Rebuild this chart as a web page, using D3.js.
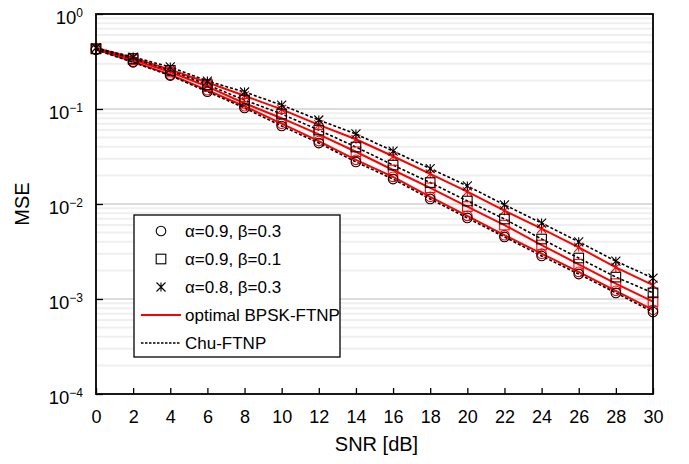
<!DOCTYPE html>
<html>
<head>
<meta charset="utf-8">
<script src="https://cdn.jsdelivr.net/npm/d3@7"></script>
<style>
  body { margin: 0; background: #fff; }
  text { font-family: "Liberation Sans", Arial, sans-serif; }
</style>
</head>
<body>
<div id="chart"></div>
<script>
// SNR points (dB)
const snr = [0, 2, 4, 6, 8, 10, 12, 14, 16, 18, 20, 22, 24, 26, 28, 30]

// Chu-FTNP (black dashed)
const chuA9B3 = [0.42, 0.31, 0.225, 0.152, 0.1025, 0.0662, 0.0438, 0.0277, 0.0183, 0.0113, 0.00713, 0.0045, 0.00284, 0.00183, 0.00116, 0.00073]
const chuA9B1 = [0.43, 0.34, 0.255, 0.18, 0.124, 0.0886, 0.06, 0.0398, 0.0257, 0.0168, 0.01075, 0.00695, 0.00428, 0.0027, 0.0017, 0.00116]
const chuA8B3 = [0.44, 0.352, 0.277, 0.197, 0.151, 0.11, 0.0766, 0.0546, 0.0361, 0.0236, 0.0155, 0.0098, 0.0063, 0.004, 0.0025, 0.00166]

// optimal BPSK-FTNP (red solid)
const optA9B3 = [0.425, 0.315, 0.23, 0.158, 0.107, 0.07, 0.046, 0.0292, 0.0193, 0.0119, 0.0075, 0.0047, 0.003, 0.00193, 0.00122, 0.00077]
const optA9B1 = [0.43, 0.33, 0.245, 0.172, 0.115, 0.08, 0.054, 0.0355, 0.0228, 0.0148, 0.0094, 0.006, 0.0037, 0.00232, 0.00145, 0.00094]
const optA8B3 = [0.44, 0.345, 0.26, 0.19, 0.138, 0.099, 0.068, 0.048, 0.0318, 0.0208, 0.0135, 0.0085, 0.0055, 0.0035, 0.00215, 0.0014]

const xTicks = [0, 2, 4, 6, 8, 10, 12, 14, 16, 18, 20, 22, 24, 26, 28, 30]
const yDecades = [0, -1, -2, -3, -4]

const legendLabels = ['α=0.9, β=0.3', 'α=0.9, β=0.1', 'α=0.8, β=0.3', 'optimal BPSK-FTNP', 'Chu-FTNP']

const W = 689, H = 464
const pLeft = 96, pRight = 653, pTop = 14, pBottom = 394

const svg = d3.select('#chart').append('svg')
  .attr('width', W).attr('height', H)

const x = d3.scaleLinear().domain([0, 30]).range([pLeft, pRight])
const y = d3.scaleLog().domain([1e-4, 1]).range([pBottom, pTop])

// horizontal grid: minor then decade lines
const minors = []
for (let e = -4; e < 0; e++) {
  for (let m = 2; m <= 9; m++) minors.push(m * Math.pow(10, e))
}
svg.append('g').selectAll('line').data(minors).enter().append('line')
  .attr('x1', pLeft).attr('x2', pRight)
  .attr('y1', d => y(d)).attr('y2', d => y(d))
  .attr('stroke', '#efefef').attr('stroke-width', 2)
svg.append('g').selectAll('line').data(yDecades.slice(1, -1)).enter().append('line')
  .attr('x1', pLeft).attr('x2', pRight)
  .attr('y1', d => y(Math.pow(10, d))).attr('y2', d => y(Math.pow(10, d)))
  .attr('stroke', '#dcdcdc').attr('stroke-width', 2)

// series
const series = [
  { vals: chuA9B3, marker: 'circle', color: '#000', dash: true },
  { vals: chuA9B1, marker: 'square', color: '#000', dash: true },
  { vals: chuA8B3, marker: 'star', color: '#000', dash: true },
  { vals: optA9B3, marker: 'circle', color: '#ff0000', dash: false },
  { vals: optA9B1, marker: 'square', color: '#ff0000', dash: false },
  { vals: optA8B3, marker: 'star', color: '#ff0000', dash: false }
]

const line = d3.line().x((d, i) => x(snr[i])).y(d => y(d))

function drawMarker(g, type, cx, cy, color) {
  if (type === 'circle') {
    g.append('circle').attr('cx', cx).attr('cy', cy).attr('r', 4.8)
      .attr('fill', 'none').attr('stroke', color).attr('stroke-width', 1.1)
  } else if (type === 'square') {
    g.append('rect').attr('x', cx - 4.8).attr('y', cy - 4.8).attr('width', 9.6).attr('height', 9.6)
      .attr('fill', 'none').attr('stroke', color).attr('stroke-width', 1.1)
  } else {
    const s = 4.5
    g.append('path')
      .attr('d', `M${cx - s},${cy - s}L${cx + s},${cy + s}M${cx - s},${cy + s}L${cx + s},${cy - s}M${cx},${cy - s}L${cx},${cy + s}`)
      .attr('stroke', color).attr('stroke-width', 1.1).attr('fill', 'none')
  }
}

const plot = svg.append('g')
// red solid lines first, black dashed on top
series.slice().reverse().forEach(s => {
  plot.append('path').datum(s.vals)
    .attr('d', line)
    .attr('fill', 'none')
    .attr('stroke', s.color)
    .attr('stroke-width', s.dash ? 1.6 : 2)
    .attr('stroke-dasharray', s.dash ? '3,2' : null)
})
series.slice().reverse().forEach(s => {
  const g = plot.append('g')
  s.vals.forEach((v, i) => drawMarker(g, s.marker, x(snr[i]), y(v), s.color))
})

// axes
const xAxis = d3.axisBottom(x).tickValues(xTicks).tickSizeInner(-6).tickSizeOuter(0).tickPadding(16)
const gx = svg.append('g').attr('transform', `translate(0,${pBottom})`).call(xAxis)
gx.select('.domain').remove()
gx.selectAll('line').attr('stroke', '#000').attr('stroke-width', 1.3)
gx.selectAll('text').attr('font-size', 18).attr('fill', '#000')
  .attr('font-family', '"Liberation Sans", Arial, sans-serif')

const yAxis = d3.axisLeft(y).tickValues(yDecades.map(e => Math.pow(10, e)))
  .tickSizeInner(-7).tickSizeOuter(0).tickPadding(13).tickFormat('')
const gy = svg.append('g').attr('transform', `translate(${pLeft},0)`).call(yAxis)
gy.select('.domain').remove()
gy.selectAll('line').attr('stroke', '#000').attr('stroke-width', 1.3)
gy.selectAll('.tick text').each(function(d) {
  const t = d3.select(this)
  const e = Math.round(Math.log10(d))
  t.attr('font-size', 18.5).attr('fill', '#000').attr('dy', '0.5em')
    .attr('font-family', '"Liberation Sans", Arial, sans-serif')
  t.append('tspan').text('10')
  t.append('tspan').attr('font-size', 12).attr('dy', '-0.6em')
    .text(e === 0 ? '0' : '\u2212' + Math.abs(e))
})

// box
svg.append('rect').attr('x', pLeft).attr('y', pTop)
  .attr('width', pRight - pLeft).attr('height', pBottom - pTop)
  .attr('fill', 'none').attr('stroke', '#000').attr('stroke-width', 1.8)

// axis titles
svg.append('text').attr('x', (pLeft + pRight) / 2 + 2).attr('y', 451)
  .attr('text-anchor', 'middle').attr('font-size', 20).text('SNR [dB]')
svg.append('text').attr('transform', `translate(29,${(pTop + pBottom) / 2}) rotate(-90)`)
  .attr('text-anchor', 'middle').attr('font-size', 20).text('MSE')

// legend
const lg = svg.append('g')
lg.append('rect').attr('x', 134).attr('y', 215).attr('width', 206).attr('height', 142)
  .attr('fill', '#fff').attr('stroke', '#000').attr('stroke-width', 1.3)
const rowY = [231, 259, 287, 315, 343]
legendLabels.forEach((lab, i) => {
  const yy = rowY[i]
  if (i < 3) {
    drawMarker(lg, ['circle', 'square', 'star'][i], 161, yy, '#000')
  } else if (i === 3) {
    lg.append('line').attr('x1', 141).attr('x2', 181).attr('y1', yy).attr('y2', yy)
      .attr('stroke', '#ff0000').attr('stroke-width', 2)
  } else {
    lg.append('line').attr('x1', 141).attr('x2', 181).attr('y1', yy).attr('y2', yy)
      .attr('stroke', '#000').attr('stroke-width', 1.3).attr('stroke-dasharray', '2.5,1.5')
  }
  lg.append('text').attr('x', 185).attr('y', yy + 6).attr('font-size', 17).text(lab)
})
</script>
</body>
</html>
